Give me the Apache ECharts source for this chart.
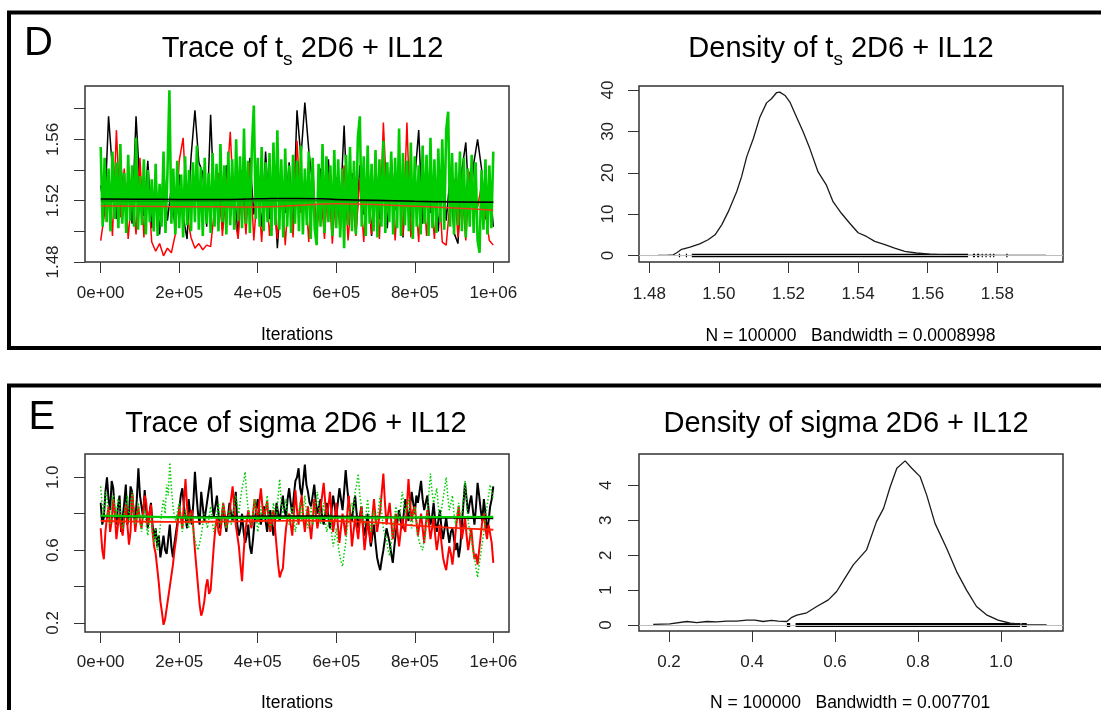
<!DOCTYPE html>
<html>
<head>
<meta charset="utf-8">
<script src="https://cdn.jsdelivr.net/npm/echarts@6/dist/echarts.min.js"></script>
<style>
html, body { margin: 0; padding: 0; background: #fff; }
#chart { width: 1101px; height: 710px; }
</style>
</head>
<body>
<div id="chart"></div>
<script>
// iterations axis (trace plots)
var iterTicks = [0, 200000, 400000, 600000, 800000, 1000000];
var iterTickText = ['0e+00', '2e+05', '4e+05', '6e+05', '8e+05', '1e+06'];
var smoothIters = [0, 100000, 200000, 300000, 400000, 500000, 600000, 700000, 800000, 900000, 1000000];

// D: trace of t_s (black/red every 1e4 iterations, green every 5e3)
var tsTicks = [1.48, 1.50, 1.52, 1.54, 1.56, 1.58];
var tsLabels = [1.48, 1.52, 1.56];
var tsBlack = [
  1.530, 1.512, 1.575, 1.540, 1.508, 1.549, 1.515, 1.535, 1.505, 1.575,
  1.528, 1.510, 1.546, 1.502, 1.533, 1.498, 1.541, 1.507, 1.529, 1.500,
  1.537, 1.510, 1.495, 1.548, 1.579, 1.545, 1.538, 1.503, 1.576, 1.512,
  1.534, 1.501, 1.543, 1.509, 1.527, 1.497, 1.540, 1.506, 1.548, 1.511,
  1.531, 1.503, 1.552, 1.508, 1.536, 1.489, 1.529, 1.512, 1.545, 1.504,
  1.579, 1.548, 1.584, 1.553, 1.530, 1.502, 1.541, 1.510, 1.547, 1.499,
  1.535, 1.513, 1.569, 1.506, 1.538, 1.498, 1.543, 1.511, 1.532, 1.497,
  1.545, 1.508, 1.537, 1.502, 1.548, 1.514, 1.530, 1.496, 1.541, 1.509,
  1.534, 1.566, 1.505, 1.546, 1.512, 1.538, 1.500, 1.543, 1.507, 1.536,
  1.499, 1.492, 1.540, 1.558, 1.510, 1.544, 1.560, 1.541, 1.508, 1.535,
  1.503
];
var tsRed = [
  1.494, 1.512, 1.535, 1.497, 1.566, 1.509, 1.541, 1.495, 1.528, 1.498,
  1.548, 1.496, 1.531, 1.493, 1.487, 1.492, 1.484, 1.489, 1.486, 1.498,
  1.546, 1.561, 1.510, 1.496, 1.489, 1.492, 1.488, 1.491, 1.490, 1.515,
  1.538, 1.497, 1.527, 1.565, 1.511, 1.495, 1.533, 1.498, 1.545, 1.494,
  1.530, 1.493, 1.539, 1.497, 1.524, 1.495, 1.536, 1.491, 1.529, 1.496,
  1.559, 1.512, 1.534, 1.493, 1.541, 1.497, 1.528, 1.495, 1.537, 1.492,
  1.531, 1.498, 1.543, 1.494, 1.526, 1.497, 1.535, 1.493, 1.540, 1.498,
  1.529, 1.495, 1.571, 1.515, 1.533, 1.494, 1.538, 1.497, 1.571, 1.496,
  1.530, 1.493, 1.542, 1.497, 1.527, 1.495, 1.536, 1.493, 1.491, 1.520,
  1.534, 1.496, 1.528, 1.494, 1.539, 1.522, 1.516, 1.530, 1.512, 1.494,
  1.491
];
var tsGreen = [
  1.555, 1.503, 1.548, 1.506, 1.541, 1.500, 1.552, 1.508, 1.545, 1.502,
  1.557, 1.505, 1.538, 1.499, 1.550, 1.507, 1.543, 1.503, 1.561, 1.501,
  1.536, 1.504, 1.547, 1.498, 1.540, 1.506, 1.534, 1.500, 1.544, 1.497,
  1.531, 1.503, 1.552, 1.499, 1.538, 1.592, 1.505, 1.541, 1.498, 1.546,
  1.502, 1.537, 1.496, 1.549, 1.504, 1.540, 1.500, 1.545, 1.506, 1.556,
  1.501, 1.542, 1.497, 1.548, 1.505, 1.538, 1.499, 1.551, 1.503, 1.544,
  1.500, 1.557, 1.506, 1.543, 1.498, 1.552, 1.504, 1.547, 1.501, 1.560,
  1.507, 1.549, 1.502, 1.567, 1.505, 1.546, 1.499, 1.553, 1.582, 1.508,
  1.548, 1.503, 1.555, 1.500, 1.545, 1.506, 1.551, 1.497, 1.558, 1.504,
  1.566, 1.501, 1.547, 1.496, 1.554, 1.503, 1.543, 1.499, 1.550, 1.505,
  1.546, 1.500, 1.556, 1.498, 1.541, 1.504, 1.552, 1.495, 1.548, 1.502,
  1.491, 1.544, 1.503, 1.557, 1.499, 1.549, 1.506, 1.543, 1.497, 1.553,
  1.502, 1.547, 1.496, 1.541, 1.489, 1.550, 1.504, 1.555, 1.500, 1.546,
  1.498, 1.561, 1.575, 1.503, 1.549, 1.497, 1.556, 1.505, 1.544, 1.500,
  1.553, 1.496, 1.547, 1.503, 1.559, 1.499, 1.545, 1.506, 1.552, 1.498,
  1.548, 1.502, 1.567, 1.497, 1.551, 1.504, 1.546, 1.500, 1.558, 1.495,
  1.549, 1.503, 1.543, 1.498, 1.556, 1.505, 1.550, 1.497, 1.561, 1.502,
  1.547, 1.499, 1.554, 1.506, 1.560, 1.501, 1.566, 1.578, 1.503, 1.551,
  1.498, 1.545, 1.504, 1.552, 1.500, 1.548, 1.496, 1.541, 1.503, 1.550,
  1.499, 1.545, 1.494, 1.486, 1.540, 1.501, 1.547, 1.498, 1.543, 1.502,
  1.552
];
var tsSmoothBlack = [1.5211, 1.5210, 1.5208, 1.5207, 1.5212, 1.5215, 1.5208, 1.5202, 1.5196, 1.5192, 1.5189];
var tsSmoothRed = [1.5165, 1.5163, 1.5161, 1.5160, 1.5159, 1.5168, 1.5180, 1.5175, 1.5163, 1.5152, 1.5137];
var tsSmoothGreen = [1.5198, 1.5197, 1.5196, 1.5197, 1.5199, 1.5200, 1.5199, 1.5197, 1.5195, 1.5194, 1.5193];

// D: density of t_s
var tsDensX = [1.4825, 1.4850, 1.4869, 1.4880, 1.4893, 1.4917, 1.4945, 1.4969, 1.4989, 1.5008, 1.5027, 1.5051,
  1.5065, 1.5080, 1.5099, 1.5118, 1.5137, 1.5151, 1.5166, 1.5175, 1.5190, 1.5204, 1.5223, 1.5242, 1.5261,
  1.5285, 1.5309, 1.5328, 1.5352, 1.5376, 1.5400, 1.5424, 1.5448, 1.5477, 1.5505, 1.5534, 1.5567, 1.5606,
  1.5663, 1.5730, 1.5800, 1.5860, 1.5940];
var tsDensY = [0, 0.02, 0.16, 0.72, 1.5, 2.0, 2.8, 3.8, 5.0, 7.4, 10.6, 15.4,
  19.0, 23.9, 28.3, 33.5, 36.9, 37.9, 39.4, 39.5, 38.7, 37.1, 33.5, 29.9, 25.9,
  20.2, 17.0, 13.0, 10.2, 7.8, 5.5, 4.6, 3.4, 2.6, 1.8, 1.0, 0.6, 0.3,
  0.1, 0.02, 0, 0, 0];
var tsDensTicks = [1.48, 1.50, 1.52, 1.54, 1.56, 1.58];
var tsDensYTicks = [0, 10, 20, 30, 40];
var tsRug = [[1.4885, 1.4888], [1.4905, 1.4908], [1.4922, 1.5716], [1.5730, 1.5736], [1.5742, 1.5748],
  [1.5755, 1.5758], [1.5766, 1.5769], [1.5778, 1.5780], [1.5788, 1.5791], [1.5826, 1.5828]];

// E: trace of sigma (every 4e3 iterations)
var sigmaTicks = [0.2, 0.4, 0.6, 0.8, 1.0];
var sigmaLabels = [0.2, 0.6, 1.0];
var sigmaBlack = [
  0.86, 0.74, 0.78, 0.92, 1.00, 0.88, 0.82, 0.98, 0.94, 0.80, 0.74, 0.84, 0.90, 0.70, 0.78, 0.86, 0.96, 0.74, 0.80, 0.95,
  0.92, 0.80, 0.76, 0.88, 1.05, 0.90, 0.84, 0.78, 0.93, 0.82, 0.72, 0.80, 0.86, 0.74, 0.66, 0.72, 0.62, 0.68, 0.56, 0.62,
  0.68, 0.60, 0.58, 0.66, 0.74, 0.62, 0.56, 0.64, 0.70, 0.76, 0.82, 0.90, 0.94, 0.84, 0.78, 0.72, 0.88, 0.80, 0.74, 0.86,
  1.03, 0.90, 0.80, 0.74, 0.92, 0.84, 0.76, 0.82, 0.88, 0.94, 1.00, 0.86, 0.78, 0.84, 0.90, 0.80, 0.72, 0.78, 0.84, 0.76,
  0.70, 0.78, 0.86, 0.80, 0.76, 0.84, 0.92, 0.74, 0.68, 0.72, 0.80, 0.70, 0.64, 0.68, 0.74, 0.62, 0.58, 0.66, 0.76, 0.82,
  0.88, 0.80, 0.74, 0.80, 0.84, 0.76, 0.70, 0.78, 0.82, 0.74, 0.68, 0.76, 0.86, 0.80, 0.76, 0.84, 0.90, 0.82, 0.78, 0.88,
  0.94, 0.86, 0.80, 0.90, 0.98, 1.00, 1.05, 0.94, 0.90, 0.98, 1.07, 0.96, 0.92, 0.86, 0.84, 0.90, 0.96, 0.86, 0.80, 0.84,
  0.88, 0.78, 0.74, 0.80, 0.86, 0.78, 0.72, 0.82, 0.90, 0.84, 0.78, 0.86, 0.94, 0.88, 0.82, 0.92, 1.04, 0.94, 0.86, 0.80,
  0.76, 0.84, 0.90, 0.80, 0.72, 0.78, 0.84, 0.74, 0.68, 0.74, 0.80, 0.70, 0.62, 0.68, 0.74, 0.64, 0.56, 0.52, 0.49, 0.55,
  0.60, 0.66, 0.72, 0.68, 0.64, 0.58, 0.53, 0.62, 0.70, 0.76, 0.82, 0.76, 0.72, 0.80, 0.88, 0.82, 0.76, 0.84, 0.92, 0.86,
  0.80, 0.90, 0.86, 0.92, 0.98, 0.88, 0.82, 0.86, 0.90, 0.80, 0.74, 0.78, 0.86, 0.76, 0.70, 0.76, 0.82, 0.72, 0.66, 0.72,
  0.78, 0.70, 0.64, 0.70, 0.72, 0.66, 0.60, 0.64, 0.56, 0.62, 0.74, 0.86, 0.97, 0.88, 0.80, 0.86, 0.90, 0.82, 0.74, 0.84,
  0.97, 0.90, 0.82, 0.76, 0.88, 0.80, 0.70, 0.76, 0.84, 0.88, 0.95
];
var sigmaRed = [
  0.72, 0.60, 0.55, 0.70, 0.78, 0.84, 0.70, 0.76, 0.88, 0.80, 0.66, 0.74, 0.80, 0.72, 0.68, 0.78, 0.85, 0.74, 0.63, 0.70,
  0.91, 0.82, 0.70, 0.78, 0.84, 0.76, 0.72, 0.80, 0.90, 0.86, 0.74, 0.80, 0.85, 0.70, 0.62, 0.58, 0.50, 0.42, 0.32, 0.26,
  0.19, 0.22, 0.28, 0.34, 0.40, 0.46, 0.52, 0.60, 0.66, 0.74, 0.84, 0.78, 0.72, 0.86, 0.99, 0.84, 0.75, 0.80, 0.82, 0.72,
  0.60, 0.50, 0.40, 0.30, 0.24, 0.27, 0.32, 0.40, 0.44, 0.36, 0.38, 0.50, 0.62, 0.72, 0.78, 0.70, 0.68, 0.76, 0.86, 0.80,
  0.72, 0.78, 0.80, 0.88, 0.95, 0.84, 0.74, 0.68, 0.62, 0.52, 0.43, 0.58, 0.70, 0.76, 0.82, 0.76, 0.72, 0.80, 0.88, 0.82,
  0.76, 0.86, 0.94, 0.84, 0.78, 0.82, 0.87, 0.76, 0.70, 0.78, 0.82, 0.72, 0.62, 0.52, 0.45, 0.48, 0.50, 0.62, 0.72, 0.78,
  0.80, 0.74, 0.68, 0.80, 0.93, 0.82, 0.74, 0.84, 0.90, 0.78, 0.70, 0.78, 0.84, 0.74, 0.66, 0.76, 0.88, 0.80, 0.72, 0.78,
  0.83, 0.90, 0.97, 0.86, 0.78, 0.84, 0.92, 0.80, 0.70, 0.76, 0.86, 0.74, 0.64, 0.72, 0.80, 0.74, 0.68, 0.80, 0.90, 0.76,
  0.62, 0.70, 0.78, 0.72, 0.66, 0.76, 0.84, 0.72, 0.60, 0.68, 0.76, 0.70, 0.64, 0.78, 0.88, 0.78, 0.70, 0.76, 0.82, 0.92,
  1.02, 0.86, 0.74, 0.80, 0.86, 0.76, 0.66, 0.72, 0.80, 0.70, 0.62, 0.70, 0.78, 0.72, 0.70, 0.84, 0.99, 0.86, 0.76, 0.82,
  0.84, 0.76, 0.68, 0.74, 0.80, 0.72, 0.64, 0.74, 0.82, 0.74, 0.66, 0.72, 0.78, 0.68, 0.60, 0.66, 0.74, 0.64, 0.56, 0.52,
  0.49, 0.56, 0.62, 0.58, 0.52, 0.60, 0.70, 0.78, 0.84, 0.74, 0.66, 0.72, 0.78, 0.68, 0.60, 0.66, 0.72, 0.62, 0.55, 0.58,
  0.52, 0.60, 0.68, 0.76, 0.80, 0.72, 0.66, 0.74, 0.74, 0.64, 0.53
];
var sigmaGreen = [
  0.95, 0.84, 0.80, 0.92, 0.88, 0.78, 0.74, 0.86, 0.90, 0.82, 0.78, 0.88, 0.86, 0.76, 0.72, 0.80, 0.84, 0.90, 0.76, 0.84,
  0.92, 0.82, 0.74, 0.80, 0.86, 0.76, 0.70, 0.78, 0.82, 0.74, 0.68, 0.76, 0.78, 0.70, 0.64, 0.72, 0.60, 0.66, 0.74, 0.82,
  0.88, 0.80, 0.96, 0.90, 1.08, 0.94, 0.84, 0.78, 0.76, 0.82, 0.86, 0.78, 0.70, 0.76, 0.82, 0.74, 0.72, 0.80, 0.78, 0.70,
  0.66, 0.62, 0.60, 0.64, 0.68, 0.74, 0.80, 0.76, 0.72, 0.78, 0.84, 0.76, 0.70, 0.74, 0.80, 0.86, 0.74, 0.80, 0.86, 0.78,
  0.72, 0.76, 0.82, 0.74, 0.76, 0.84, 0.90, 0.84, 0.80, 0.88, 0.94, 0.98, 1.03, 0.90, 0.82, 0.78, 0.74, 0.80, 0.88, 0.80,
  0.70, 0.76, 0.84, 0.78, 0.76, 0.82, 0.90, 0.80, 0.72, 0.78, 0.86, 0.80, 0.78, 0.90, 0.99, 0.86, 0.80, 0.84, 0.88, 0.78,
  0.74, 0.80, 0.84, 0.76, 0.70, 0.76, 0.80, 0.86, 0.76, 0.82, 0.90, 0.80, 0.72, 0.78, 0.84, 0.74, 0.78, 0.86, 0.92, 0.82,
  0.74, 0.80, 0.86, 0.76, 0.70, 0.74, 0.80, 0.70, 0.62, 0.66, 0.72, 0.64, 0.58, 0.54, 0.51, 0.58, 0.64, 0.72, 0.78, 0.84,
  0.86, 0.80, 0.92, 0.96, 1.02, 0.90, 0.84, 0.78, 0.74, 0.80, 0.88, 0.78, 0.70, 0.76, 0.82, 0.74, 0.76, 0.84, 0.90, 0.80,
  0.72, 0.68, 0.66, 0.60, 0.57, 0.64, 0.70, 0.78, 0.84, 0.80, 0.76, 0.84, 0.92, 0.86, 0.80, 0.84, 0.88, 0.78, 0.72, 0.78,
  0.84, 0.76, 0.68, 0.64, 0.62, 0.60, 0.59, 0.70, 0.80, 0.92, 1.02, 0.92, 0.86, 0.90, 0.94, 0.84, 0.78, 0.82, 0.88, 0.94,
  1.00, 0.90, 0.82, 0.86, 0.90, 0.80, 0.74, 0.80, 0.86, 0.78, 0.80, 0.88, 0.98, 0.86, 0.76, 0.70, 0.66, 0.60, 0.56, 0.50,
  0.45, 0.52, 0.58, 0.64, 0.70, 0.78, 0.84, 0.90, 0.96, 0.92, 0.88
];
var sigmaSmoothBlack = [0.785, 0.783, 0.781, 0.783, 0.786, 0.787, 0.785, 0.782, 0.779, 0.777, 0.775];
var sigmaSmoothRed = [0.760, 0.757, 0.755, 0.757, 0.760, 0.762, 0.760, 0.752, 0.735, 0.722, 0.712];
var sigmaSmoothGreen = [0.790, 0.785, 0.780, 0.778, 0.777, 0.777, 0.778, 0.779, 0.780, 0.782, 0.783];

// E: density of sigma
var sigmaDensX = [0.162, 0.202, 0.243, 0.267, 0.291, 0.315, 0.339, 0.363, 0.387, 0.407, 0.427, 0.447, 0.463,
  0.484, 0.496, 0.508, 0.532, 0.556, 0.584, 0.604, 0.624, 0.644, 0.676, 0.700, 0.717, 0.733, 0.749, 0.769,
  0.785, 0.805, 0.821, 0.841, 0.869, 0.893, 0.917, 0.941, 0.965, 0.993, 1.022, 1.062, 1.110];
var sigmaDensY = [0.02, 0.03, 0.10, 0.07, 0.10, 0.09, 0.11, 0.11, 0.14, 0.14, 0.10, 0.13, 0.11,
  0.10, 0.22, 0.28, 0.35, 0.53, 0.72, 0.96, 1.34, 1.72, 2.15, 2.96, 3.34, 3.96, 4.49, 4.70,
  4.49, 4.25, 3.72, 2.91, 2.20, 1.53, 1.00, 0.53, 0.29, 0.14, 0.05, 0.01, 0];
var sigmaDensTicks = [0.2, 0.4, 0.6, 0.8, 1.0];
var sigmaDensYTicks = [0, 1, 2, 3, 4];
var sigmaRug = [[0.484, 0.492], [0.505, 1.046], [1.050, 1.062]];

var FONT = '"Liberation Sans", Arial, Helvetica, sans-serif';
var chart = echarts.init(document.getElementById('chart'), null, { renderer: 'canvas' });

var measure = document.createElement('canvas').getContext('2d');
function textW(t, size) {
  measure.font = size + 'px ' + FONT;
  return measure.measureText(t).width;
}
function label(x, y, text, size, align) {
  return {
    type: 'text', x: x, y: y, silent: true,
    style: { text: text, fill: '#000', font: size + 'px ' + FONT, align: align || 'center', verticalAlign: 'middle' }
  };
}
// title with a subscript piece
function subTitle(cx, y, pre, sub, post) {
  var w1 = textW(pre, 29), w2 = textW(sub, 19), w3 = textW(post, 29);
  var x0 = cx - (w1 + w2 + w3) / 2;
  return [
    label(x0, y, pre, 29, 'left'),
    label(x0 + w1, y + 10.6, sub, 19, 'left'),
    label(x0 + w1 + w2, y, post, 29, 'left')
  ];
}

// ticks at every value in `ticks`, text only on the values in `shown`
function axis(gi, min, max, ticks, shown, fmt, margin, rotate) {
  return {
    type: 'value', gridIndex: gi, min: min, max: max,
    axisLine: { show: false, onZero: false },
    splitLine: { show: false },
    axisTick: { show: true, length: 11, inside: false, customValues: ticks, lineStyle: { color: '#333', width: 1 } },
    axisLabel: {
      show: true, customValues: ticks, margin: margin, rotate: rotate || 0,
      formatter: function (v) {
        for (var k = 0; k < shown.length; k++) {
          if (Math.abs(shown[k] - v) < 1e-9) return fmt(v);
        }
        return '';
      },
      color: '#222', fontSize: 17, fontFamily: FONT
    }
  };
}
// plain axis with nothing drawn
function bareAxis(gi, min, max) {
  return {
    type: 'value', gridIndex: gi, min: min, max: max,
    axisLine: { show: false, onZero: false }, splitLine: { show: false },
    axisTick: { show: false }, axisLabel: { show: false }
  };
}
var iterFmt = function (v) { return iterTickText[iterTicks.indexOf(v)]; };
var fix2 = function (v) { return v.toFixed(2); };
var fix1 = function (v) { return v.toFixed(1); };
var plain = function (v) { return String(v); };

function chain(gi, values, step, color, width, dash) {
  return {
    type: 'line', xAxisIndex: gi, yAxisIndex: gi, symbol: 'none', silent: true,
    data: values.map(function (v, i) { return [i * step, v]; }),
    lineStyle: { color: color, width: width, type: dash || 'solid' }
  };
}
function smoothLine(gi, values, color, width) {
  return {
    type: 'line', xAxisIndex: gi, yAxisIndex: gi, symbol: 'none', silent: true, smooth: true,
    data: values.map(function (v, i) { return [smoothIters[i], v]; }),
    lineStyle: { color: color, width: width }
  };
}
function density(gi, xs, ys) {
  return {
    type: 'line', xAxisIndex: gi, yAxisIndex: gi, symbol: 'none', silent: true,
    data: xs.map(function (x, i) { return [x, ys[i]]; }),
    lineStyle: { color: '#1a1a1a', width: 1.3 },
    markLine: {
      silent: true, symbol: ['none', 'none'], label: { show: false },
      lineStyle: { color: '#bdbdbd', width: 1, type: 'solid' },
      data: [{ yAxis: 0 }]
    }
  };
}
function rug(gi, segs, h) {
  return {
    type: 'custom', xAxisIndex: gi, yAxisIndex: gi, silent: true,
    data: segs.map(function (s) { return [s[0], s[1], 0]; }),
    encode: { x: [0, 1], y: 2 },
    renderItem: function (params, api) {
      var a = api.coord([api.value(0), 0]);
      var b = api.coord([api.value(1), 0]);
      return {
        type: 'rect',
        shape: { x: a[0], y: a[1] - h / 2, width: Math.max(b[0] - a[0], 1.2), height: h },
        style: { fill: '#000' }
      };
    }
  };
}

var gridStyle = { show: true, borderColor: '#333', borderWidth: 1.5, backgroundColor: 'transparent' };
var traceD = { left: 85, top: 86, width: 424, height: 176 };
var traceE = { left: 85, top: 454, width: 424, height: 178 };

var option = {
  animation: false,
  backgroundColor: '#fff',
  grid: [
    Object.assign({}, traceD, gridStyle),
    Object.assign({ left: 639, top: 86, width: 424, height: 176 }, gridStyle),
    Object.assign({}, traceE, gridStyle),
    Object.assign({ left: 639, top: 454, width: 424, height: 177 }, gridStyle),
    // overlays carrying the value axes of the trace plots
    Object.assign({ show: false }, traceD),
    Object.assign({ show: false }, traceE)
  ],
  xAxis: [
    axis(0, -40000, 1040000, iterTicks, iterTicks, iterFmt, 23),
    axis(1, 1.47704, 1.59888, tsDensTicks, tsDensTicks, fix2, 24),
    axis(2, -40000, 1040000, iterTicks, iterTicks, iterFmt, 22),
    axis(3, 0.1277, 1.1494, sigmaDensTicks, sigmaDensTicks, fix1, 23),
    bareAxis(4, 1, 2),
    bareAxis(5, 1, 2)
  ],
  yAxis: [
    bareAxis(0, 1.48, 1.5948),
    axis(1, -1.58, 40.98, tsDensYTicks, tsDensYTicks, plain, 22, 90),
    bareAxis(2, 0.1505, 1.128),
    axis(3, -0.172, 4.897, sigmaDensYTicks, sigmaDensYTicks, plain, 24, 90),
    axis(4, 1.48, 1.5948, tsTicks, tsLabels, fix2, 23, 90),
    axis(5, 0.1505, 1.128, sigmaTicks, sigmaLabels, fix1, 23, 90)
  ],
  series: [
    chain(0, tsBlack, 10000, '#000000', 1.5),
    chain(0, tsRed, 10000, '#ff0000', 1.5),
    chain(0, tsGreen, 5000, '#00cd00', 2.6),
    smoothLine(0, tsSmoothGreen, '#00a000', 1.5),
    smoothLine(0, tsSmoothBlack, '#000000', 1.5),
    smoothLine(0, tsSmoothRed, '#e8401a', 1.5),

    density(1, tsDensX, tsDensY),
    rug(1, tsRug, 3.5),

    chain(2, sigmaBlack, 4000, '#000000', 2),
    chain(2, sigmaRed, 4000, '#ff0000', 2),
    chain(2, sigmaGreen, 4000, '#00cd00', 1.5, [1.5, 2]),
    smoothLine(2, sigmaSmoothBlack, '#000000', 1.8),
    smoothLine(2, sigmaSmoothRed, '#ff2000', 1.8),
    smoothLine(2, sigmaSmoothGreen, '#00cd00', 2.2),

    density(3, sigmaDensX, sigmaDensY),
    rug(3, sigmaRug, 4)
  ],
  graphic: [
    { type: 'rect', silent: true, shape: { x: 9, y: 12.5, width: 1200, height: 335.5 }, style: { fill: 'none', stroke: '#000', lineWidth: 4 } },
    { type: 'rect', silent: true, shape: { x: 9, y: 385.5, width: 1200, height: 400 }, style: { fill: 'none', stroke: '#000', lineWidth: 4 } },
    label(24, 44, 'D', 40, 'left'),
    label(28.5, 417.5, 'E', 40, 'left'),
    label(296, 423.7, 'Trace of sigma 2D6 + IL12', 29),
    label(846, 423.7, 'Density of sigma 2D6 + IL12', 29),
    label(297, 335, 'Iterations', 17.5),
    label(297, 703.5, 'Iterations', 17.5),
    label(850.5, 336, 'N = 100000   Bandwidth = 0.0008998', 17.5),
    label(850, 703.5, 'N = 100000   Bandwidth = 0.007701', 17.5)
  ].concat(
    subTitle(302.5, 49, 'Trace of t', 's', ' 2D6 + IL12'),
    subTitle(841, 49, 'Density of t', 's', ' 2D6 + IL12')
  )
};

chart.setOption(option);
</script>
</body>
</html>
